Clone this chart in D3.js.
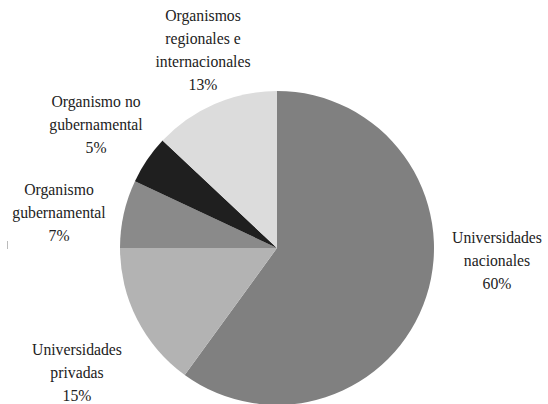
<!DOCTYPE html>
<html>
<head>
<meta charset="utf-8">
<script src="https://cdn.jsdelivr.net/npm/d3@7"></script>
<style>
  html, body { margin: 0; padding: 0; background: #fff; }
  svg { display: block; }
</style>
</head>
<body>
<svg id="chart" width="548" height="404"></svg>
<script>
const categories = [
  "Universidades nacionales",
  "Universidades privadas",
  "Organismo gubernamental",
  "Organismo no gubernamental",
  "Organismos regionales e internacionales"
];
const values = [60, 15, 7, 5, 13];
const labelLines = [
  ["Universidades", "nacionales", "60%"],
  ["Universidades", "privadas", "15%"],
  ["Organismo", "gubernamental", "7%"],
  ["Organismo no", "gubernamental", "5%"],
  ["Organismos", "regionales e", "internacionales", "13%"]
];
const colors = ["#808080", "#b3b3b3", "#8a8a8a", "#1f1f1f", "#dcdcdc"];

// pick an installed serif face
const ctx = document.createElement("canvas").getContext("2d");
function w(font) { ctx.font = font; return ctx.measureText("Universidades 13% gubernamental").width; }
const candidates = ["Liberation Serif", "DejaVu Serif", "Noto Serif", "Times New Roman", "Georgia"];
let chosen = null;
for (const f of candidates) {
  if (w(`16px "${f}", monospace`) !== w("16px monospace")) { chosen = f; break; }
}
const fontFamily = chosen ? `"${chosen}", serif` : "serif";
ctx.font = `16px ${fontFamily}`;
const fontSize = Math.min(16, 16 * 90 / ctx.measureText("Universidades").width);

const svg = d3.select("#chart");
const cx = 277, cy = 248, r = 157;

const data = categories.map((c, i) => ({ name: c, value: values[i], lines: labelLines[i], color: colors[i] }));

const pie = d3.pie().value(d => d.value).sort(null);
const arcs = pie(data);
const arc = d3.arc().innerRadius(0).outerRadius(r);

const g = svg.append("g").attr("transform", `translate(${cx},${cy})`);
g.selectAll("path")
  .data(arcs)
  .join("path")
  .attr("d", arc)
  .attr("fill", d => d.data.color);

// label anchors (line-block centre x, first baseline y), relative to centre
const labelPos = [
  [220, -5],
  [-200, 107],
  [-218, -53],
  [-181, -141],
  [-74, -227]
];
const lineH = 23;
const tg = svg.append("g")
  .attr("text-anchor", "middle")
  .style("font-family", fontFamily)
  .style("font-size", fontSize + "px")
  .style("fill", "#222");

arcs.forEach((a, i) => {
  const [lx, ly] = labelPos[i];
  const t = tg.append("text");
  a.data.lines.forEach((ln, j) => {
    t.append("tspan")
      .attr("x", cx + lx)
      .attr("y", cy + ly + j * lineH)
      .text(ln);
  });
});

// tiny scan artefact at left edge
svg.append("rect").attr("x", 7).attr("y", 241).attr("width", 1).attr("height", 8).attr("fill", "#bbb");
</script>
</body>
</html>
